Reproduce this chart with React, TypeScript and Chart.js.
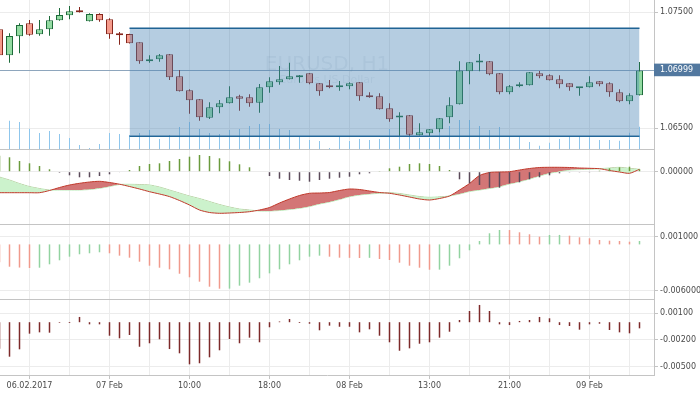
import { useEffect, useRef } from 'react';
import { Chart, registerables } from 'chart.js';

Chart.register(...registerables);

// ---------- data (EURUSD, H1) ----------
const OPEN = [1.07353, 1.07129, 1.07293, 1.07405, 1.07310, 1.07353, 1.07431, 1.07474, 1.07517, 1.07422,
  1.07485, 1.07440, 1.07316, 1.07313, 1.07241, 1.07078, 1.07095, 1.07138, 1.06948, 1.06828,
  1.06750, 1.06591, 1.06681, 1.06716, 1.06776, 1.06767, 1.06721, 1.06853, 1.06897, 1.06922,
  1.06940, 1.06974, 1.06888, 1.06871, 1.06853, 1.06862, 1.06897, 1.06785, 1.06776, 1.06672,
  1.06594, 1.06612, 1.06440, 1.06457, 1.06491, 1.06595, 1.06707, 1.06991, 1.07067, 1.07078,
  1.06974, 1.06810, 1.06862, 1.06871, 1.06974, 1.06957, 1.06922, 1.06888, 1.06845, 1.06853,
  1.06905, 1.06888, 1.06810, 1.06733, 1.06785];
const HIGH = [1.07373, 1.07319, 1.07405, 1.07434, 1.07434, 1.07468, 1.07537, 1.07554, 1.07546, 1.07491,
  1.07491, 1.07448, 1.07330, 1.07316, 1.07241, 1.07129, 1.07141, 1.07140, 1.07003, 1.06836,
  1.06752, 1.06724, 1.06744, 1.06862, 1.06790, 1.06793, 1.06882, 1.06940, 1.07037, 1.07066,
  1.06959, 1.06976, 1.06890, 1.06916, 1.06908, 1.06897, 1.06899, 1.06810, 1.06802, 1.06716,
  1.06638, 1.06614, 1.06543, 1.06493, 1.06588, 1.06767, 1.07078, 1.07071, 1.07141, 1.07080,
  1.06976, 1.06873, 1.06897, 1.06985, 1.06994, 1.06966, 1.06957, 1.06890, 1.06855, 1.06948,
  1.06907, 1.06897, 1.06836, 1.06802, 1.07072];
const LOW = [1.07115, 1.07066, 1.07147, 1.07298, 1.07298, 1.07298, 1.07428, 1.07440, 1.07498, 1.07420,
  1.07419, 1.07272, 1.07221, 1.07230, 1.07057, 1.07066, 1.07074, 1.06916, 1.06817, 1.06626,
  1.06566, 1.06580, 1.06629, 1.06714, 1.06652, 1.06686, 1.06635, 1.06807, 1.06876, 1.06920,
  1.06893, 1.06879, 1.06781, 1.06845, 1.06824, 1.06836, 1.06738, 1.06764, 1.06662, 1.06557,
  1.06434, 1.06428, 1.06438, 1.06428, 1.06466, 1.06543, 1.06705, 1.06879, 1.06991, 1.06957,
  1.06793, 1.06793, 1.06853, 1.06869, 1.06931, 1.06912, 1.06845, 1.06824, 1.06781, 1.06851,
  1.06862, 1.06772, 1.06724, 1.06707, 1.06783];
const CLOSE = [1.07129, 1.07296, 1.07390, 1.07307, 1.07353, 1.07431, 1.07477, 1.07509, 1.07500, 1.07485,
  1.07431, 1.07310, 1.07302, 1.07233, 1.07078, 1.07095, 1.07129, 1.06940, 1.06819, 1.06741,
  1.06595, 1.06681, 1.06716, 1.06767, 1.06755, 1.06716, 1.06853, 1.06905, 1.06922, 1.06948,
  1.06957, 1.06888, 1.06819, 1.06853, 1.06862, 1.06888, 1.06776, 1.06767, 1.06664, 1.06578,
  1.06596, 1.06445, 1.06466, 1.06491, 1.06586, 1.06698, 1.06999, 1.07069, 1.07069, 1.06966,
  1.06810, 1.06862, 1.06879, 1.06983, 1.06948, 1.06914, 1.06879, 1.06853, 1.06853, 1.06897,
  1.06879, 1.06810, 1.06733, 1.06785, 1.06999];
const VOLUME = [1000, 1132, 1080, 812, 640, 720, 600, 440, 160, 40,
  200, 640, 600, 560, 640, 760, 400, 560, 880, 1080,
  800, 640, 600, 760, 800, 920, 1000, 1000, 800, 760,
  520, 360, 320, 40, 480, 320, 400, 360, 400, 800,
  760, 560, 440, 440, 760, 920, 1160, 1160, 920, 760,
  880, 480, 520, 280, 132, 252, 400, 492, 492, 468,
  360, 360, 332, 652, 892];

// oscillator pane (histogram + two lines with a coloured cloud)
const OSC_HIST = [0.0008, 0.00072, 0.000535, 0.00042, 0.000285, 0.00012, -0.00005, -0.00018, -0.00028, -0.00028,
  -0.000215, -0.00013, -0.00003, 0.000085, 0.000285, 0.000385, 0.00042, 0.000535, 0.000635, 0.00075,
  0.000835, 0.000785, 0.00067, 0.00052, 0.00037, 0.00022, -0.000025, -0.000215, -0.00035, -0.000415,
  -0.00045, -0.0005, -0.000415, -0.00035, -0.0003, -0.00025, -0.00013, -0.00008, 0.000035, 0.00017,
  0.00025, 0.000385, 0.00042, 0.000385, 0.000285, 0.000085, -0.00038, -0.00058, -0.000665, -0.0008,
  -0.0008, -0.00058, -0.00053, -0.00038, -0.00028, -0.00018, -0.00008, -0.000015, -0.000015, -0.00001,
  0.00005, 0.00017, 0.00022, 0.00025, 0.00012];
const OSC_FAST = [-0.00105, -0.00105, -0.00105, -0.00105, -0.00105, -0.00094, -0.00079, -0.000665, -0.00058, -0.000515,
  -0.00048, -0.00054, -0.000625, -0.00074, -0.000865, -0.001, -0.001115, -0.001245, -0.00144, -0.001665,
  -0.001915, -0.00204, -0.00208, -0.002065, -0.00204, -0.002, -0.001915, -0.00179, -0.001565, -0.001365,
  -0.00119, -0.00108, -0.001065, -0.00104, -0.00094, -0.000865, -0.00089, -0.000965, -0.00104, -0.00108,
  -0.001165, -0.001265, -0.001365, -0.001415, -0.00134, -0.001215, -0.000915, -0.00059, -0.00019, -0.00004,
  -0.000015, 0, 0.000085, 0.00016, 0.00021, 0.00022, 0.00022, 0.00021, 0.000185, 0.00017,
  0.00015, 0.00006, -0.000015, -0.00008, 0.00012];
const OSC_SLOW = [-0.000265, -0.000415, -0.00059, -0.00074, -0.00084, -0.000915, -0.000915, -0.000915, -0.000915, -0.00089,
  -0.00083, -0.00074, -0.00064, -0.00063, -0.00064, -0.000665, -0.000765, -0.000915, -0.001065, -0.001215,
  -0.00134, -0.00149, -0.00164, -0.001765, -0.001865, -0.001915, -0.001965, -0.001965, -0.00194, -0.00189,
  -0.00183, -0.00174, -0.001615, -0.001515, -0.00139, -0.00125, -0.001165, -0.001115, -0.00108, -0.00105,
  -0.00109, -0.001165, -0.00124, -0.00128, -0.001255, -0.001215, -0.001115, -0.00099, -0.000915, -0.00084,
  -0.00075, -0.000615, -0.0005, -0.000365, -0.000215, -0.00008, 0.00001, 0.000085, 0.000105, 0.00012,
  0.00015, 0.000185, 0.00022, 0.00017, 0.00012];

// awesome-oscillator-like pane
const AO = [-0.00232, -0.00289, -0.00300, -0.00306, -0.00302, -0.00258, -0.00206, -0.00159, -0.00128, -0.00115,
  -0.00102, -0.00115, -0.00146, -0.00172, -0.00224, -0.00276, -0.00302, -0.00323, -0.0038, -0.00426,
  -0.00483, -0.00548, -0.00574, -0.00573, -0.00535, -0.00496, -0.00439, -0.00375, -0.00323, -0.00258,
  -0.00206, -0.00159, -0.00146, -0.00159, -0.00172, -0.00174, -0.00176, -0.00174, -0.00189, -0.00202,
  -0.00237, -0.00276, -0.00302, -0.00328, -0.00327, -0.00276, -0.0018, -0.00076, 0.00044, 0.00144,
  0.00187, 0.00186, 0.00157, 0.00131, 0.001, 0.00122, 0.00123, 0.00113, 0.00092, 0.00079,
  0.00057, 0.00048, 0.00044, 0.00035, 0.00044];

// momentum-like pane
const MOMENTUM = [-0.003, -0.00388, -0.00305, -0.00129, -0.00114, -0.00118, -0.00007, -0.00009, 0.00059, -0.00024,
  -0.00024, -0.00152, -0.00181, -0.00144, -0.00276, -0.00237, -0.00192, -0.00302, -0.0035, -0.00474,
  -0.00462, -0.00395, -0.00316, -0.00189, -0.00237, -0.00174, -0.00226, -0.00057, 0.00008, 0.00036,
  -0.00009, -0.00017, -0.00091, -0.00039, -0.00051, -0.00051, -0.00114, -0.0008, -0.00152, -0.00226,
  -0.00321, -0.00294, -0.00242, -0.00226, -0.00174, -0.00107, 0.00025, 0.00126, 0.00194, 0.00126,
  -0.00024, -0.00032, 0.00014, 0.00025, 0.00059, 0.00044, -0.00032, -0.00043, -0.00084, -0.00024,
  -0.00017, -0.00088, -0.00114, -0.00125, -0.00069];

// axes / ticks
const GRID_IDX = [3, 7, 11, 15, 19, 23, 27, 31, 35, 39, 43, 47, 51, 55, 59, 63];
const LABEL_IDX = [3, 11, 19, 27, 35, 43, 51, 59];
const LABEL_TEXT = ['06.02.2017', '07 Feb', '10:00', '18:00', '08 Feb', '13:00', '21:00', '09 Feb'];
const LAST_PRICE = 1.06999;
const PRICE_TICKS = [1.065, LAST_PRICE, 1.075];
const OSC_TICKS = [0];
const AO_TICKS = [-0.006, 0.001];
const MOM_TICKS = [-0.005, -0.002, 0.001];

// rectangle object
const RECT_FROM = 13;
const RECT_TO = 64;
const RECT_TOP = 1.07362;
const RECT_BOTTOM = 1.06431;

const WATERMARK_TITLE = 'EURUSD, H1';
const WATERMARK_SUB = 'Euro vs US Dollar';

// ---------- styling ----------
const FONT = { family: 'DejaVu Sans', size: 8 };
const TEXT = '#4a4a4a';
const AXIS = '#c4c4c4';
const GRID = '#ececec';
const UP_FILL = '#93dba2';
const UP_LINE = '#1d6b3a';
const DOWN_FILL = '#f59b8c';
const DOWN_LINE = '#86261c';

const isUp = (i: number) => CLOSE[i] >= OPEN[i];

function yAxis(weight: number, stackWeight: number, min: number, max: number, ticks: number[], digits: number, extra: any = {}) {
  return {
    type: 'linear',
    position: 'right',
    stack: 'panes',
    stackWeight,
    weight,
    min,
    max,
    border: { color: AXIS },
    grid: { color: GRID, tickLength: 4, tickColor: AXIS, ...(extra.grid || {}) },
    ticks: {
      font: FONT,
      color: TEXT,
      padding: 2,
      callback: (v: any) => Number(v).toFixed(digits),
      ...(extra.ticks || {}),
    },
    afterBuildTicks: (s: any) => {
      s.ticks = ticks.map((v) => ({ value: v }));
    },
    afterFit: (s: any) => {
      s.width = 46;
      s.paddingTop = 0;
      s.paddingBottom = 0;
    },
  };
}

const panePlugin = {
  id: 'panes',
  beforeDatasetsDraw(chart: any) {
    const { ctx, chartArea } = chart;
    const y = chart.scales.y;
    const cx = (chartArea.left + chartArea.right) / 2;
    const cy = (y.top + y.bottom) / 2;
    ctx.save();
    ctx.fillStyle = 'rgba(30,60,90,0.07)';
    ctx.textAlign = 'center';
    ctx.textBaseline = 'middle';
    ctx.font = '20px "DejaVu Sans"';
    ctx.fillText(WATERMARK_TITLE, cx, cy - 10);
    ctx.font = '11px "DejaVu Sans"';
    ctx.fillText(WATERMARK_SUB, cx, cy + 6);
    ctx.restore();
  },
  afterDatasetsDraw(chart: any) {
    const { ctx, chartArea } = chart;
    ctx.save();
    ctx.strokeStyle = AXIS;
    ctx.lineWidth = 1;
    for (const id of ['y', 'y2', 'y3']) {
      const yy = Math.round(chart.scales[id].bottom) + 0.5;
      ctx.beginPath();
      ctx.moveTo(chartArea.left, yy);
      ctx.lineTo(chartArea.right, yy);
      ctx.stroke();
    }
    ctx.restore();
  },
};

const pts = (arr: number[]) => arr.map((y, x) => ({ x, y }));

const barBase = {
  type: 'bar',
  grouped: false,
  inflateAmount: 0,
  borderWidth: 0,
};

export default function App() {
  const ref = useRef<HTMLCanvasElement>(null);

  useEffect(() => {
    const canvas = ref.current;
    if (!canvas) return;
    const chart = new Chart(canvas, {
      type: 'bar',
      data: {
        datasets: [
          {
            type: 'line',
            data: [{ x: RECT_FROM, y: RECT_TOP }, { x: RECT_TO, y: RECT_TOP }],
            yAxisID: 'y',
            borderColor: '#1f6394',
            borderWidth: 1.5,
            backgroundColor: 'rgba(70,130,180,0.4)',
            fill: { value: RECT_BOTTOM },
            pointRadius: 0,
            order: 0,
          },
          {
            type: 'line',
            data: [{ x: RECT_FROM, y: RECT_BOTTOM }, { x: RECT_TO, y: RECT_BOTTOM }],
            yAxisID: 'y',
            borderColor: '#1f6394',
            borderWidth: 1.5,
            fill: false,
            pointRadius: 0,
            order: 0,
          },
          {
            ...barBase,
            data: OPEN.map((o, i) => ({ x: i, y: [o, CLOSE[i]] })),
            yAxisID: 'y',
            barThickness: 7,
            maxBarThickness: 7,
            borderWidth: 1,
            borderSkipped: false,
            minBarLength: 2,
            backgroundColor: (c: any) => (isUp(c.dataIndex) ? UP_FILL : DOWN_FILL),
            borderColor: (c: any) => (isUp(c.dataIndex) ? UP_LINE : DOWN_LINE),
            order: 1,
          },
          {
            ...barBase,
            data: LOW.map((l, i) => ({ x: i, y: [l, HIGH[i]] })),
            yAxisID: 'y',
            barThickness: 1,
            maxBarThickness: 1,
            backgroundColor: (c: any) => (isUp(c.dataIndex) ? UP_LINE : DOWN_LINE),
            order: 2,
          },
          {
            ...barBase,
            data: pts(VOLUME),
            yAxisID: 'yVol',
            barThickness: 1,
            maxBarThickness: 1,
            backgroundColor: '#8fc6ec',
            order: 3,
          },
          {
            ...barBase,
            data: pts(OSC_HIST),
            yAxisID: 'y2',
            barThickness: 1.5,
            maxBarThickness: 1.5,
            backgroundColor: (c: any) => (OSC_HIST[c.dataIndex] >= 0 ? '#6a9b3c' : '#5b4a5a'),
            order: 4,
          },
          {
            type: 'line',
            data: pts(OSC_FAST),
            yAxisID: 'y2',
            borderColor: '#c0392b',
            borderWidth: 1,
            pointRadius: 0,
            tension: 0.25,
            fill: { target: '+1', above: '#d37676', below: '#ccf2cc' },
            order: 5,
          },
          {
            type: 'line',
            data: pts(OSC_SLOW),
            yAxisID: 'y2',
            borderColor: '#b5eab5',
            borderWidth: 1,
            pointRadius: 0,
            tension: 0.25,
            fill: false,
            order: 6,
          },
          {
            ...barBase,
            data: pts(AO),
            yAxisID: 'y3',
            barThickness: 1.5,
            maxBarThickness: 1.5,
            backgroundColor: (c: any) => {
              const i = c.dataIndex;
              return i > 0 && AO[i] >= AO[i - 1] ? '#92d3a0' : '#f09a8c';
            },
            order: 7,
          },
          {
            ...barBase,
            data: pts(MOMENTUM),
            yAxisID: 'y4',
            barThickness: 1.5,
            maxBarThickness: 1.5,
            backgroundColor: '#7d2a2a',
            order: 8,
          },
        ] as any,
      },
      options: {
        animation: false,
        responsive: false,
        devicePixelRatio: 1,
        events: [],
        layout: { padding: 0 },
        plugins: { legend: { display: false }, tooltip: { enabled: false } },
        scales: {
          x: {
            type: 'linear',
            position: 'bottom',
            min: 0.05,
            max: 65.45,
            offset: false,
            grid: {
              offset: false,
              color: GRID,
              tickLength: 4,
              tickColor: (c: any) => (c.tick && LABEL_IDX.includes(c.tick.value) ? AXIS : 'rgba(0,0,0,0)'),
            },
            border: { color: AXIS },
            ticks: {
              autoSkip: false,
              maxRotation: 0,
              minRotation: 0,
              font: FONT,
              color: TEXT,
              padding: 2,
              callback: (v: any) => {
                const k = LABEL_IDX.indexOf(Number(v));
                return k >= 0 ? LABEL_TEXT[k] : '';
              },
            },
            afterBuildTicks: (s: any) => {
              s.ticks = GRID_IDX.map((v) => ({ value: v }));
            },
            afterFit: (s: any) => {
              s.height = 19;
              s.paddingLeft = 0;
              s.paddingRight = 0;
            },
          },
          yVol: { type: 'linear', display: false, position: 'left', min: -9040, max: 5960 },
          y: yAxis(1, 149, 1.063216, 1.07606, PRICE_TICKS, 5, {
            grid: {
              color: (c: any) => (c.tick && c.tick.value === LAST_PRICE ? '#8ea6bd' : GRID),
            },
            ticks: {
              color: (c: any) => (c.tick && c.tick.value === LAST_PRICE ? '#ffffff' : TEXT),
              showLabelBackdrop: (c: any) => !!(c.tick && c.tick.value === LAST_PRICE),
              backdropColor: '#52789f',
              backdropPadding: { top: 2, bottom: 1, left: 6, right: 8 },
            },
          }),
          y2: yAxis(2, 75, -0.002615, 0.001135, OSC_TICKS, 5),
          y3: yAxis(3, 75, -0.007076, 0.002644, AO_TICKS, 6),
          y4: yAxis(4, 76, -0.00594, 0.00261, MOM_TICKS, 5),
        } as any,
      },
      plugins: [panePlugin],
    } as any);
    return () => chart.destroy();
  }, []);

  return (
    <div style={{ position: 'fixed', left: 0, top: 0, width: 700, height: 394, background: '#ffffff' }}>
      <canvas ref={ref} width={700} height={394} style={{ display: 'block', width: 700, height: 394 }} />
    </div>
  );
}
